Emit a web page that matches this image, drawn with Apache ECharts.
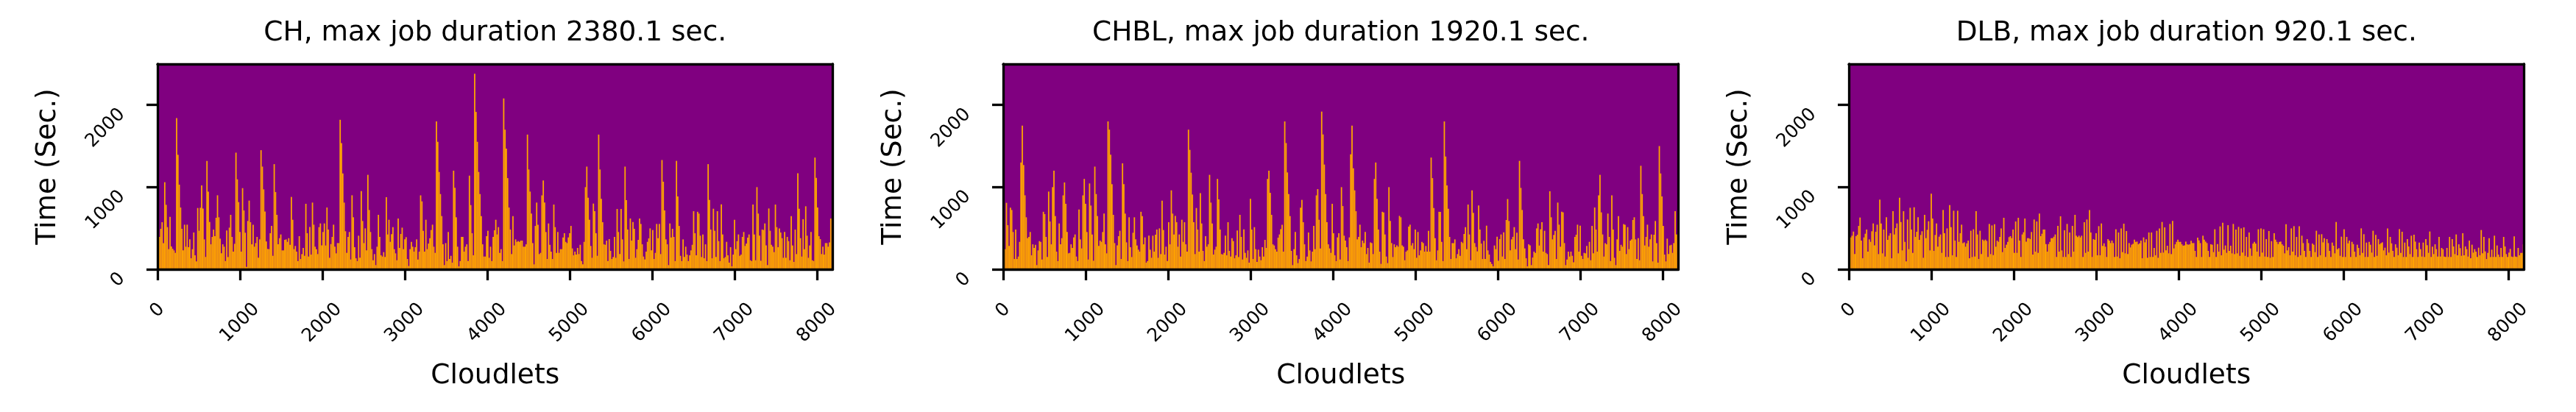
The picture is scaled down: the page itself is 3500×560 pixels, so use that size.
<!DOCTYPE html>
<html>
<head>
<meta charset="utf-8">
<script src="https://cdn.jsdelivr.net/npm/echarts@6/dist/echarts.min.js"></script>
<style>
  html, body { margin: 0; padding: 0; background: #fff; }
  #chart { width: 3500px; height: 560px; }
</style>
</head>
<body>
<div id="chart"></div>
<script>
// ---- data: job duration (s) per block of 16 cloudlets ----
const N_CLOUDLETS = 8192;
const BIN = 16;   // cloudlets per drawn bar

const ch = [
394,394,493,573,319,1060,785,513,245,639,278,250,230,200,1840,1394,1030,752,493,230,
543,275,543,269,364,134,245,448,170,96,746,469,749,1021,740,364,150,1319,946,576,
304,394,483,403,627,901,633,373,194,304,275,100,472,149,507,663,394,215,310,1420,
1095,818,454,215,988,716,445,30,588,836,573,304,543,275,319,394,140,364,1450,1250,
973,703,339,248,245,439,528,164,1280,940,663,304,379,424,230,230,358,364,334,379,
298,881,603,245,284,215,100,403,125,185,260,164,797,439,155,516,179,812,543,275,
245,185,513,558,290,454,558,290,752,484,140,307,394,543,275,194,319,319,1820,1537,
1167,812,463,200,394,454,119,901,633,269,134,100,409,140,952,588,319,498,230,1150,
722,454,245,110,185,51,275,663,394,170,155,209,150,878,
424,603,334,427,513,245,194,110,618,260,430,507,245,364,391,125,40,245,334,275,
215,269,364,119,215,900,827,469,215,603,245,313,379,478,543,275,200,1800,1552,1185,
916,648,304,51,319,100,454,125,164,81,1200,991,633,275,36,100,394,394,215,275,
304,100,1140,782,439,170,2380,1916,1552,1185,916,648,304,155,155,403,469,140,275,100,
394,475,603,424,513,200,245,100,2080,1700,1469,1110,752,484,185,648,290,364,334,343,
334,349,349,275,275,304,1640,1215,946,678,319,60,528,812,543,185,200,900,1081,812,
454,125,558,298,215,125,788,513,200,454,200,245,245,388,439,334,319,388,439,528,
254,170,215,179,260,185,298,100,60,334,1000,1250,872,603,284,140,800,707,439,164,
1640,1215,857,573,304,298,349,100,367,224,125,149,
394,140,734,454,185,734,364,96,1250,842,484,125,618,349,576,493,140,245,358,618,
552,304,155,120,215,334,376,498,230,478,125,200,552,379,552,185,1330,1066,716,364,
304,51,558,388,493,394,100,1320,887,528,164,100,364,149,275,179,100,170,230,298,
707,439,170,700,678,409,149,424,134,304,100,1280,845,484,134,737,469,149,707,343,
100,791,424,134,149,334,170,81,269,36,179,603,245,343,424,164,179,394,454,284,
313,385,424,110,100,788,424,110,1000,678,409,104,484,478,558,290,51,740,469,298,
275,209,788,513,269,498,448,379,140,454,140,394,343,110,648,290,90,483,185,1170,
737,379,155,609,245,767,409,140,290,454,110,100,1360,1113,752,403,367,185,275,179,
319,319,275,328,618,600
];

const chbl = [
334,245,809,537,284,750,722,454,125,484,125,155,334,1300,1750,1269,901,633,379,394,
454,170,304,260,298,51,230,343,334,119,700,672,394,149,946,582,304,1000,1200,648,
215,100,558,304,379,900,1057,797,454,194,200,304,260,388,424,155,100,728,364,254,
900,1100,797,454,119,1045,776,424,104,1250,916,648,284,349,334,454,678,304,194,1800,
1700,1394,1036,663,319,51,290,403,469,125,1290,1036,678,328,100,633,269,149,445,633,
364,290,239,215,700,648,304,388,81,100,409,239,140,409,215,421,484,140,498,185,
836,478,179,275,100,573,304,961,678,424,650,573,275,424,155,603,334,573,304,215,
1700,1454,1176,910,573,185,746,484,215,928,558,224,100,403,275,304,1150,812,558,179,
239,275,1100,852,484,185,179,200,409,170,573,224,155,379,
343,134,170,472,149,663,394,119,487,200,140,230,81,857,484,125,513,245,90,239,
155,110,269,155,358,260,1100,1200,931,663,304,290,245,215,385,424,489,543,215,1800,
1537,1179,916,648,224,51,245,454,170,75,125,750,845,573,304,100,155,448,230,96,
215,528,245,900,976,603,254,1920,1642,1275,916,573,304,254,200,797,439,170,100,388,
439,119,1000,770,409,349,269,100,388,1400,1750,1230,961,707,364,394,543,269,349,319,
454,185,260,81,328,319,185,1100,1300,857,484,215,66,700,693,424,155,75,1000,588,
319,149,304,269,290,275,650,633,290,275,110,215,230,519,543,290,319,245,484,140,
454,170,230,334,319,215,284,215,469,215,1360,1110,746,379,110,230,700,698,334,100,
1800,1373,1021,737,394,125,319,319,364,134,185,245,
164,334,319,430,513,245,788,424,110,961,687,319,272,218,776,484,313,125,346,125,
531,230,179,90,66,36,290,245,397,104,367,424,155,451,125,600,855,588,230,364,
395,513,245,445,119,1320,991,722,364,254,134,36,304,290,51,143,215,200,498,558,
289,487,573,215,469,200,185,51,950,633,364,418,469,125,812,543,275,700,693,319,
51,119,215,155,215,164,84,394,421,543,215,531,164,125,200,194,284,140,334,110,
528,194,752,484,215,900,1150,693,424,155,319,304,678,394,100,900,484,140,51,364,
648,224,298,275,550,543,185,513,245,349,364,600,633,364,125,379,110,1260,916,648,
290,394,543,275,364,424,96,421,588,319,81,1500,1167,887,528,179,96,373,185,290,
298,200,319,707,424,424
];

const dlb = [
484,388,409,459,185,403,421,528,630,349,134,388,433,484,215,364,334,463,558,290,
457,543,185,848,558,194,484,155,633,358,409,439,134,707,424,501,558,194,872,576,
230,707,334,96,606,245,749,484,200,755,394,457,633,358,418,463,140,663,379,481,
585,230,920,618,224,418,558,275,397,424,200,722,439,150,498,150,782,513,170,713,
349,150,713,334,439,543,319,328,275,316,349,134,469,149,487,155,707,424,125,469,
185,361,346,361,346,150,552,185,534,173,549,275,349,334,394,498,209,627,260,299,
334,391,403,379,484,200,582,200,627,349,150,424,451,618,337,379,379,367,454,179,
606,215,582,200,678,403,433,484,484,307,215,307,334,379,379,397,424,150,528,215,
645,230,150,475,150,552,185,448,150,528,215,663,
409,391,409,388,409,150,573,200,606,215,722,448,150,367,358,439,170,525,170,558,
284,316,275,150,367,349,319,349,319,150,487,155,448,134,498,209,555,194,466,185,
319,266,299,310,361,334,337,304,316,349,134,388,328,364,140,448,150,448,150,260,
170,469,140,498,200,576,203,510,230,287,194,552,185,588,254,304,334,361,334,334,
304,287,290,337,304,299,304,346,319,319,224,150,385,352,319,150,409,361,337,319,
224,150,304,299,209,487,150,307,215,522,170,567,239,290,200,537,224,287,194,552,
185,484,194,516,164,498,203,510,164,394,150,448,254,164,313,334,313,215,487,155,
498,203,487,155,367,150,466,140,343,150,439,361,334,307,334,337,304,287,194,549,
230,269,170,498,215,525,170,394,150,525,170,409,
319,224,150,367,319,224,150,313,299,209,469,149,424,170,427,328,379,150,367,319,
224,150,325,287,194,576,245,257,164,397,150,487,150,394,316,349,150,334,307,215,
150,299,260,170,498,200,427,150,325,150,334,299,203,469,150,418,164,367,304,319,
328,230,263,170,498,203,394,316,224,150,304,263,170,489,200,457,150,325,150,367,
278,185,409,150,421,337,245,150,325,245,155,325,150,367,293,200,460,150,275,185,
304,245,155,394,155,260,245,155,150,260,150,394,150,367,278,185,424,170,304,257,
164,439,170,278,245,155,349,134,299,203,245,215,150,263,170,478,194,394,218,125,
200,379,149,239,150,409,150,290,179,150,260,150,394,278,185,150,203,248,155,150,
400,155,150,260,170,200,200,304
];

const panelNames = ['CH', 'CHBL', 'DLB'];
const maxDurations = [2380.1, 1920.1, 920.1];
const xTicks = [0, 1000, 2000, 3000, 4000, 5000, 6000, 7000, 8000];
const yTicks = [0, 1000, 2000];
const xLabel = 'Cloudlets';
const yLabel = 'Time (Sec.)';

// ---- layout / style ----
const FONT = 'DejaVu Sans';
const PURPLE = '#800080';
const ORANGE = '#FFA500';
const gridLefts = [214, 1363, 2512];
const GRID_TOP = 87, GRID_W = 917.5, GRID_H = 279;
const SPINE = 3.3;
const yMax = Math.max(...maxDurations) * 1.05;

const seriesData = [ch, chbl, dlb].map(arr =>
  arr.map((v, i) => [i * BIN, (i + 1) * BIN, v]));

const lineStyle = { color: '#000', width: SPINE };
const tickFont = { fontSize: 25, fontFamily: FONT, color: '#000' };
const nameFont = { fontSize: 37.5, fontFamily: FONT, color: '#000' };

const option = {
  animation: false,
  backgroundColor: '#fff',
  title: [], grid: [], xAxis: [], yAxis: [], series: []
};

gridLefts.forEach((left, i) => {
  option.title.push({
    text: panelNames[i] + ', max job duration ' + maxDurations[i].toFixed(1) + ' sec.',
    left: left + GRID_W / 2, top: 26, textAlign: 'center', padding: 0,
    textStyle: Object.assign({ fontWeight: 'normal' }, nameFont)
  });
  option.grid.push({
    left: left, top: GRID_TOP, width: GRID_W, height: GRID_H,
    show: true, backgroundColor: PURPLE, borderWidth: 0,
    containLabel: false, outerBoundsMode: 'none'
  });
  option.xAxis.push({
    type: 'value', gridIndex: i, min: 0, max: N_CLOUDLETS, position: 'bottom', z: 5,
    axisLine: { show: true, onZero: false, lineStyle },
    axisTick: { show: true, length: 15, lineStyle, customValues: xTicks },
    axisLabel: Object.assign({
      customValues: xTicks, rotate: 45, align: 'center', verticalAlign: 'middle', margin: 73,
      formatter: v => v === 0 ? '{z|0}' : String(v),
      rich: { z: Object.assign({ padding: [0, 0, 24, 24] }, tickFont) }
    }, tickFont),
    splitLine: { show: false },
    name: xLabel, nameLocation: 'middle', nameGap: 126, nameTextStyle: nameFont
  });
  option.xAxis.push({
    type: 'value', gridIndex: i, min: 0, max: N_CLOUDLETS, position: 'top', z: 5,
    axisLine: { show: true, onZero: false, lineStyle },
    axisTick: { show: false }, axisLabel: { show: false }, splitLine: { show: false }
  });
  option.yAxis.push({
    type: 'value', gridIndex: i, min: 0, max: yMax, position: 'left', z: 5,
    axisLine: { show: true, onZero: false, lineStyle },
    axisTick: { show: true, length: 15, lineStyle, customValues: yTicks },
    axisLabel: Object.assign({
      customValues: yTicks, rotate: 45, align: 'right', verticalAlign: 'top', margin: 57,
      formatter: v => String(v)
    }, tickFont),
    splitLine: { show: false },
    name: yLabel, nameLocation: 'middle', nameGap: 130, nameTextStyle: nameFont
  });
  option.yAxis.push({
    type: 'value', gridIndex: i, min: 0, max: yMax, position: 'right', z: 5,
    axisLine: { show: true, onZero: false, lineStyle },
    axisTick: { show: false }, axisLabel: { show: false }, splitLine: { show: false }
  });
  option.series.push({
    type: 'custom', xAxisIndex: i * 2, yAxisIndex: i * 2, z: 2,
    data: seriesData[i],
    encode: { x: [0, 1], y: 2 },
    renderItem: (params, api) => {
      const p0 = api.coord([api.value(0), api.value(2)]);
      const p1 = api.coord([api.value(1), 0]);
      return {
        type: 'rect',
        shape: { x: p0[0], y: p0[1], width: p1[0] - p0[0], height: p1[1] - p0[1] },
        style: { fill: ORANGE }
      };
    }
  });
});

const chart = echarts.init(document.getElementById('chart'));
chart.setOption(option);
</script>
</body>
</html>
